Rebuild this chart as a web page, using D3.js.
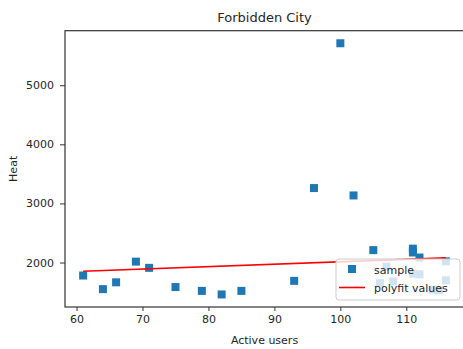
<!DOCTYPE html>
<html>
<head>
<meta charset="utf-8">
<script src="https://cdn.jsdelivr.net/npm/d3@7"></script>
<style>
body { margin: 0; background: #fff; }
text { font-family: "DejaVu Sans", sans-serif; fill: #262626; }
</style>
</head>
<body>
<div id="chart-area"></div>
<script>
// sample data
var users = [61, 64, 66, 69, 71, 75, 79, 82, 85, 93, 96, 100, 102, 105,
             106, 107, 108, 111, 111, 111, 112, 112, 114, 115, 116, 116];
var heat  = [1780, 1550, 1665, 2015, 1910, 1585, 1520, 1460, 1520, 1690, 3260, 5710, 3135, 2210,
             1650, 1930, 1680, 2235, 2170, 1810, 2085, 1800, 1540, 1530, 1700, 2020];

// polyfit values at the ends of the line
var fitX = [61, 116];
var fitY = [1852, 2078];

var xTicks = [60, 70, 80, 90, 100, 110];
var yTicks = [2000, 3000, 4000, 5000];

var W = 463, H = 349;
var margin = {left: 65, right: -1, top: 30.7, bottom: 42};
var width = W - margin.left - margin.right,
    height = H - margin.top - margin.bottom;

var svg = d3.select("#chart-area").append("svg")
    .attr("width", W).attr("height", H);

var g = svg.append("g")
    .attr("transform", "translate(" + margin.left + "," + margin.top + ")");

// matplotlib style 5% padding
var xExt = d3.extent(users), yExt = d3.extent(heat);
var xPad = (xExt[1] - xExt[0]) * 0.05, yPad = (yExt[1] - yExt[0]) * 0.05;

var xScale = d3.scaleLinear()
    .domain([xExt[0] - xPad, xExt[1] + xPad])
    .range([0, width]);
var yScale = d3.scaleLinear()
    .domain([yExt[0] - yPad, yExt[1] + yPad])
    .range([height, 0]);

// axes
var xAxis = g.append("g")
    .attr("transform", "translate(0," + height + ")")
    .call(d3.axisBottom(xScale).tickValues(xTicks).tickFormat(d3.format("d"))
        .tickSize(4).tickPadding(4));
var yAxis = g.append("g")
    .call(d3.axisLeft(yScale).tickValues(yTicks).tickFormat(d3.format("d"))
        .tickSize(5).tickPadding(6));

[xAxis, yAxis].forEach(function(a){
    a.select(".domain").remove();
    a.selectAll("line").attr("stroke", "#333");
    a.selectAll("text").attr("font-size", "11px").attr("font-family", "DejaVu Sans").attr("fill", "#262626");
});

// frame
g.append("rect")
    .attr("width", width).attr("height", height)
    .attr("fill", "none").attr("stroke", "#333").attr("stroke-width", 1.2);

// points
var sq = 8;
g.selectAll("rect.pt")
    .data(users)
    .enter().append("rect")
    .attr("class", "pt")
    .attr("x", function(d){ return xScale(d) - sq/2; })
    .attr("y", function(d, i){ return yScale(heat[i]) - sq/2; })
    .attr("width", sq).attr("height", sq)
    .attr("fill", "#1f77b4");

// fit line
var line = d3.line()
    .x(function(d){ return xScale(d[0]); })
    .y(function(d){ return yScale(d[1]); });
g.append("path")
    .datum(d3.zip(fitX, fitY))
    .attr("d", line)
    .attr("fill", "none")
    .attr("stroke", "red")
    .attr("stroke-width", 1.6);

// labels
svg.append("text")
    .attr("x", margin.left + width/2).attr("y", 22)
    .attr("text-anchor", "middle").attr("font-size", "13px")
    .text("Forbidden City");
svg.append("text")
    .attr("x", margin.left + width/2).attr("y", 344)
    .attr("text-anchor", "middle").attr("font-size", "11px")
    .text("Active users");
svg.append("text")
    .attr("transform", "translate(17," + (margin.top + height/2) + ") rotate(-90)")
    .attr("text-anchor", "middle").attr("font-size", "11px")
    .text("Heat");

// legend
var legend = svg.append("g").attr("transform", "translate(336,259)");
legend.append("rect")
    .attr("width", 124).attr("height", 41).attr("rx", 3)
    .attr("fill", "#fff").attr("fill-opacity", 0.8)
    .attr("stroke", "#ccc").attr("stroke-width", 1);
legend.append("rect")
    .attr("x", 12).attr("y", 6).attr("width", sq).attr("height", sq)
    .attr("fill", "#1f77b4");
legend.append("text")
    .attr("x", 38).attr("y", 15).attr("font-size", "11px")
    .text("sample");
legend.append("line")
    .attr("x1", 3).attr("x2", 29).attr("y1", 28.5).attr("y2", 28.5)
    .attr("stroke", "red").attr("stroke-width", 1.6);
legend.append("text")
    .attr("x", 38).attr("y", 33).attr("font-size", "11px")
    .text("polyfit values");
</script>
</body>
</html>
